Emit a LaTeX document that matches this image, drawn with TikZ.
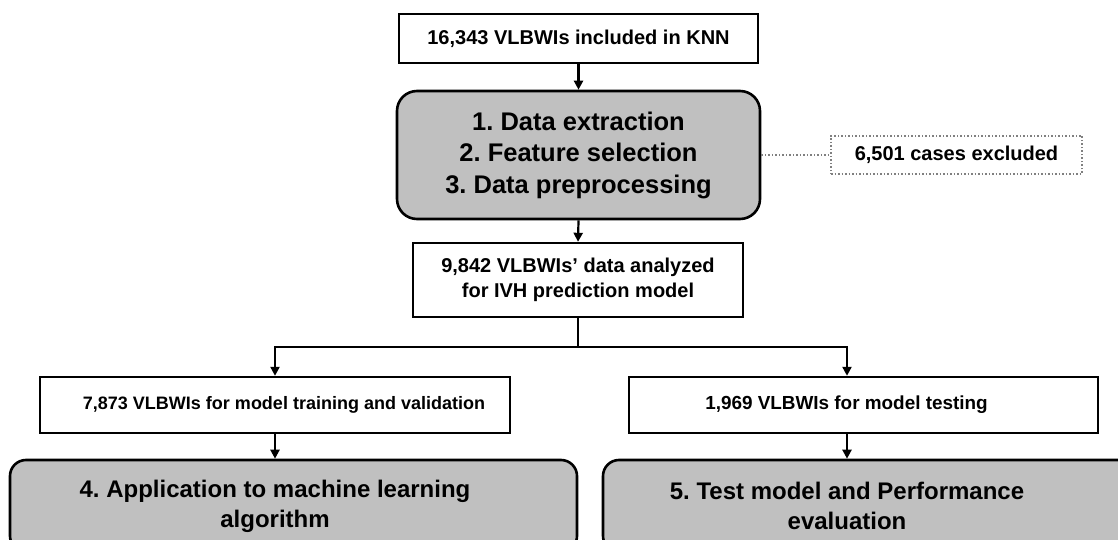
\documentclass[tikz,border=0pt]{standalone}
\usepackage{fontspec}
\setmainfont{Liberation Sans}
\usetikzlibrary{arrows.meta}
\definecolor{boxgray}{HTML}{C0C0C0}
\definecolor{dotgray}{HTML}{808080}
\frenchspacing
\begin{document}
\begin{tikzpicture}[x=1pt,y=-1pt,
 plainbox/.style={draw=black, line width=2.4pt, fill=white, inner sep=0pt, align=center},
 graybox/.style={draw=black, line width=2.6pt, fill=boxgray, inner sep=0pt},
 label/.style={inner sep=0pt, align=center},
 arr/.style={line width=2.2pt, -{Triangle[width=9pt,length=9pt]}},
 ln/.style={line width=2.2pt},
 fsmall/.style={font=\fontsize{20}{25}\selectfont\bfseries},
 fbig/.style={font=\fontsize{25.5}{31.5}\selectfont\bfseries},
 fbottom/.style={font=\fontsize{24}{30}\selectfont\bfseries},
]
\useasboundingbox (0,0) rectangle (1118,540);
\clip (0,0) rectangle (1118,540);
\fill[white] (0,0) rectangle (1118,540);

\node[plainbox, fsmall, minimum width=359pt, minimum height=49pt] (top) at (578.5,38.5) {16,343 VLBWIs included in KNN};
\node[graybox, fbig, rounded corners=20pt, minimum width=363pt, minimum height=128pt, align=center] (g1) at (578.5,155) {1. Data extraction\\2. Feature selection\\3. Data preprocessing};
\node[draw=dotgray, dotted, line width=1.5pt, inner sep=0pt, fsmall, minimum width=251pt, minimum height=38pt] (ex) at (956.5,155) {6,501 cases excluded};
\node[plainbox, fsmall, minimum width=330pt, minimum height=74pt] (mid) at (578,280) {9,842 VLBWIs’ data analyzed\\for IVH prediction model};
\node[plainbox, font=\fontsize{18}{22}\selectfont\bfseries, minimum width=470pt, minimum height=56pt] (lb) at (275,405) {\hspace*{18pt}7,873 VLBWIs for model training and validation};
\node[plainbox, font=\fontsize{18.9}{22}\selectfont\bfseries, minimum width=469pt, minimum height=56pt] (rb) at (863.5,405) {1,969 VLBWIs for model testing\hspace*{34pt}};
\node[graybox, rounded corners=16pt, minimum width=567pt, minimum height=92pt] (b4) at (293.5,506) {};
\node[graybox, rounded corners=16pt, minimum width=537pt, minimum height=92pt] (b5) at (871.5,506) {};
\node[label, fbottom] (t4) at (275,506) {4. Application to machine learning\\algorithm};
\node[label, fbottom] (t5) at (847,506) {5. Test model and Performance\\evaluation};

\coordinate (sl) at (275,347);
\coordinate (sr) at (847,347);

\draw[arr] (top.south) -- (g1.north);
\draw[dotgray, dotted, line width=1.5pt] (g1.east) -- (ex.west);
\draw[arr] (g1.south) -- (mid.north);
\draw[ln] (mid.south) -- (mid.south |- sl);
\draw[arr] (sr) -- (sl) -- (sl |- lb.north);
\draw[arr] (sl) -- (sr) -- (sr |- rb.north);
\draw[arr] (lb.south) -- (lb.south |- b4.north);
\draw[arr] (sr |- rb.south) -- (sr |- b5.north);
\end{tikzpicture}
\end{document}
